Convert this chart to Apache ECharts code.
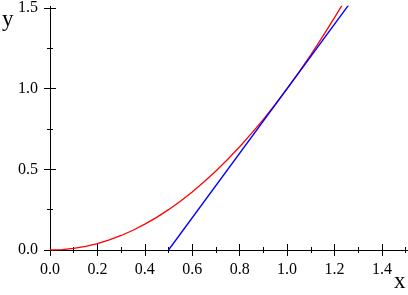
<!DOCTYPE html>
<html><head><meta charset="utf-8">
<script src="https://cdn.jsdelivr.net/npm/echarts@6/dist/echarts.min.js"></script>
<style>html,body{margin:0;padding:0;background:#fff}#c{width:408px;height:295px}</style>
</head><body><div id="c"></div>
<script>
var parabolaX = [0, 0.05, 0.1, 0.15, 0.2, 0.25, 0.3, 0.35, 0.4, 0.45, 0.5, 0.55, 0.6, 0.65, 0.7, 0.75, 0.8, 0.85, 0.9, 0.95, 1.0, 1.05, 1.1, 1.15, 1.2, 1.235];
var parabolaY = [0, 0.0025, 0.01, 0.0225, 0.04, 0.0625, 0.09, 0.1225, 0.16, 0.2025, 0.25, 0.3025, 0.36, 0.4225, 0.49, 0.5625, 0.64, 0.7225, 0.81, 0.9025, 1.0, 1.1025, 1.21, 1.3225, 1.44, 1.525];
var tangentX = [0.5, 1.26];
var tangentY = [0, 1.52];
var xMajor = [0, 0.2, 0.4, 0.6, 0.8, 1.0, 1.2, 1.4];
var xMinor = [0.1, 0.3, 0.5, 0.7, 0.9, 1.1, 1.3, 1.5];
var yMajor = [0, 0.5, 1.0, 1.5];
var yMinor = [0.25, 0.75, 1.25];

function pairs(xs, ys){ return xs.map(function(x,i){return [x, ys[i]];}); }
var font = 'Liberation Serif';
var chart = echarts.init(document.getElementById('c'), null, {renderer:'canvas'});
function axis(kind, ticks, inside, len, labels){
  return {type:'value', min:0, max:1.51,
    position: kind==='x' ? 'bottom' : 'left',
    axisLine:{show:true, onZero:false, lineStyle:{color:'#000', width:1}},
    axisTick:{show:true, inside:inside, length:len, customValues:ticks, lineStyle:{color:'#000', width:1}},
    minorTick:{show:false},
    splitLine:{show:false},
    axisLabel:{show:labels, margin:12, color:'#000', fontFamily:font, fontSize:16,
      customValues:ticks, formatter:function(v){ return v.toFixed(1); }}};
}
chart.setOption({
  animation:false,
  grid:{left:50, right:0, top:4, bottom:45, containLabel:false},
  xAxis:[axis('x', xMajor, false, 6, true), axis('x', xMajor, true, 6, false),
         axis('x', xMinor, false, 3, false), axis('x', xMinor, true, 3, false)],
  yAxis:[axis('y', yMajor, false, 6, true), axis('y', yMajor, true, 6, false),
         axis('y', yMinor, false, 3, false), axis('y', yMinor, true, 3, false)],
  graphic:[
    {type:'text', left:2, top:8, style:{text:'y', font:'23px "Liberation Serif"', fill:'#000'}},
    {type:'text', left:394, top:270, style:{text:'x', font:'23px "Liberation Serif"', fill:'#000'}}
  ],
  series:[
    {type:'line', data:pairs(parabolaX, parabolaY), smooth:false, showSymbol:false,
      lineStyle:{color:'#ff0000', width:1.3}, clip:true},
    {type:'line', data:pairs(tangentX, tangentY), showSymbol:false,
      lineStyle:{color:'#0000ff', width:1.3}, clip:true}
  ]
});
</script></body></html>
